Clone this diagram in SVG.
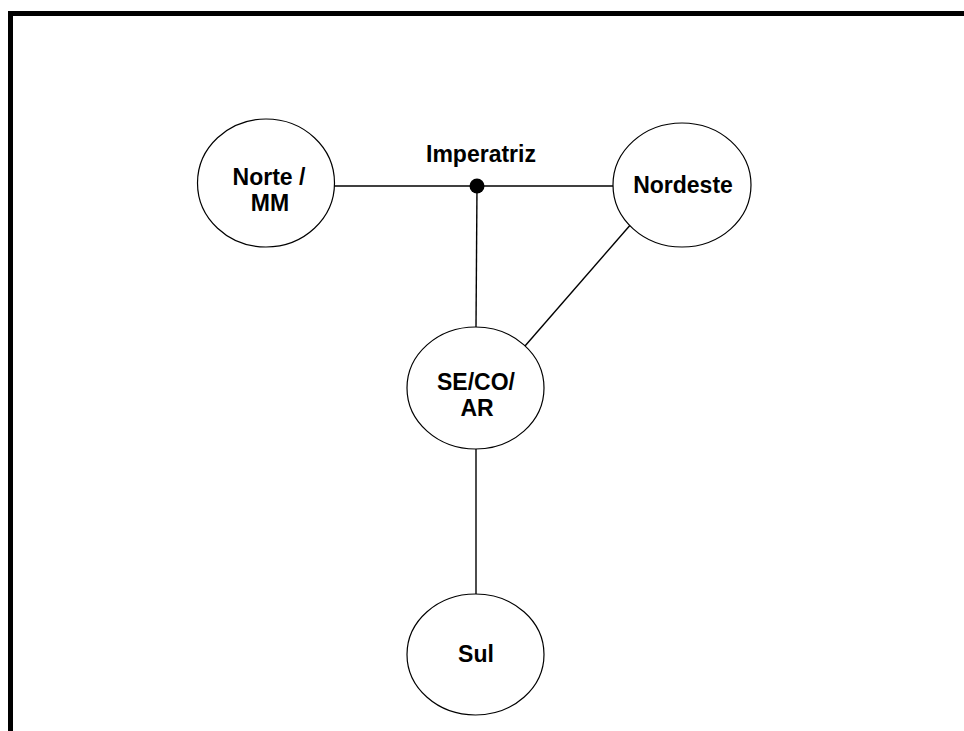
<svg xmlns="http://www.w3.org/2000/svg" width="964" height="731" viewBox="0 0 964 731">
  <style>
    .node ellipse { fill: #ffffff; stroke: #000000; stroke-width: 1.2; }
    .node text, .label { font-family: "Liberation Sans", Arial, sans-serif; font-weight: bold; font-size: 23px; fill: #000000; text-anchor: middle; }
    .link { stroke: #000000; stroke-width: 1.4; fill: none; }
  </style>
  <rect x="0" y="0" width="964" height="731" fill="#ffffff"/>
  <!-- frame (top and left edges) -->
  <path d="M10.5 731 V13.5 H964" fill="none" stroke="#000000" stroke-width="5"/>

  <g id="connectors">
    <line class="link" x1="334" y1="186" x2="613" y2="186"/>
    <line class="link" x1="477" y1="186" x2="476" y2="327"/>
    <line class="link" x1="632" y1="223" x2="525" y2="346"/>
    <line class="link" x1="476" y1="449" x2="476" y2="594"/>
  </g>

  <g id="imperatriz">
    <circle cx="477" cy="186" r="7.5" fill="#000000"/>
    <text class="label" x="481" y="162">Imperatriz</text>
  </g>

  <g id="norte" class="node">
    <ellipse cx="266" cy="183" rx="68.5" ry="64"/>
    <text x="269" y="185">Norte /</text>
    <text x="270" y="211">MM</text>
  </g>

  <g id="nordeste" class="node">
    <ellipse cx="682" cy="185" rx="69" ry="62"/>
    <text x="683" y="193">Nordeste</text>
  </g>

  <g id="seco" class="node">
    <ellipse cx="475.5" cy="388" rx="68.5" ry="61"/>
    <text x="476" y="390">SE/CO/</text>
    <text x="477" y="416">AR</text>
  </g>

  <g id="sul" class="node">
    <ellipse cx="475.5" cy="654.5" rx="68.5" ry="60.5"/>
    <text x="476" y="662">Sul</text>
  </g>
</svg>
